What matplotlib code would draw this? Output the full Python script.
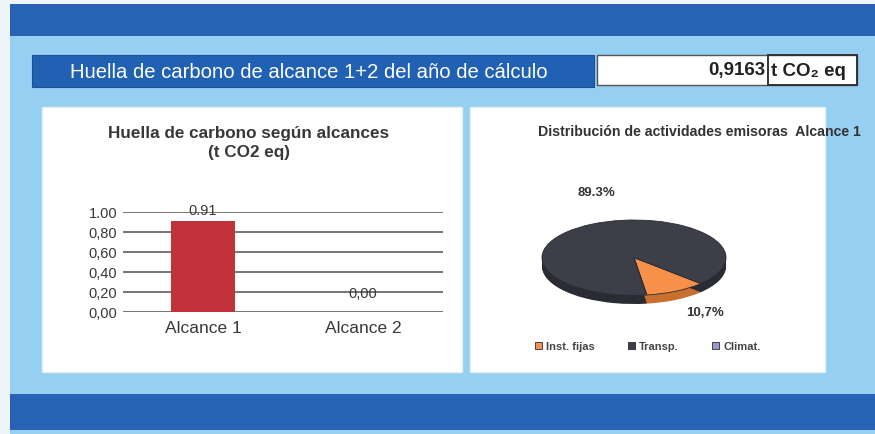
import matplotlib
matplotlib.use("Agg")
import matplotlib.pyplot as plt
from matplotlib.patches import Rectangle

# Footprint per scope (t CO2 eq)
scopes = ["Alcance 1", "Alcance 2"]
scope_values = [0.91, 0.00]
scope_labels = ["0.91", "0,00"]
y_ticks = [0.0, 0.2, 0.4, 0.6, 0.8, 1.0]
y_tick_labels = ["0,00", "0,20", "0,40", "0,60", "0,80", "1.00"]

# Scope 1 split by emitting activity (%)
activities = ["Inst. fijas", "Transp.", "Climat."]
activity_share = [10.7, 89.3, 0.0]
activity_labels = ["10,7%", "89.3%", ""]

total_value = "0,9163"
total_unit = "t CO₂ eq"
header = "Huella de carbono de alcance 1+2 del año de cálculo"

W, H = 875, 435
FONT = ["Liberation Sans", "DejaVu Sans"]
DARK_BLUE = "#2762b4"
LIGHT_BLUE = "#95cff1"
TEXT = "#383838"


def box(x0, y0, x1, y1):
    """Pixel box (top-left origin) -> figure fraction [l, b, w, h]."""
    return [x0 / W, 1 - y1 / H, (x1 - x0) / W, (y1 - y0) / H]


def fx(x):
    return x / W


def fy(y):
    return 1 - y / H


def rect(x0, y0, x1, y1, **kw):
    l, b, w, h = box(x0, y0, x1, y1)
    fig.add_artist(Rectangle((l, b), w, h, transform=fig.transFigure,
                             zorder=-5, **kw))


fig = plt.figure(figsize=(W / 100, H / 100), dpi=100)
fig.patch.set_facecolor(LIGHT_BLUE)

# page frame
rect(0, 0, 10, H, facecolor="#eef6fb", lw=0)
rect(0, 0, W, 5, facecolor="#eef6fb", lw=0)
rect(10, 5, W, 37, facecolor=DARK_BLUE, lw=0)
rect(10, 395, W, 431, facecolor=DARK_BLUE, lw=0)

# header row
rect(32, 56, 594, 88, facecolor="#2161b3", edgecolor="#1b4f96", lw=0.8)
fig.text(fx(70), fy(73), header, color="white", fontsize=14.6,
         family=FONT, va="center", ha="left")
rect(597, 56, 857, 86, facecolor="white", edgecolor="#555555", lw=1.0)
rect(768, 56, 857, 86, facecolor="none", edgecolor="#333333", lw=1.4)
fig.text(fx(765), fy(71), total_value, color="#222222", fontsize=13.5,
         family=FONT, fontweight="bold", va="center", ha="right")
fig.text(fx(771), fy(71), total_unit, color="#222222", fontsize=13.5,
         family=FONT, fontweight="bold", va="center", ha="left")

# white panels
rect(42, 108, 462, 373, facecolor="white", edgecolor="#e4eef5", lw=1)
rect(470, 108, 825, 373, facecolor="white", edgecolor="#e4eef5", lw=1)

# ---- bar chart: footprint by scope ----
fig.text(fx(249), fy(143), "Huella de carbono según alcances\n(t CO2 eq)",
         color=TEXT, fontsize=12.3, family=FONT, fontweight="bold",
         ha="center", va="center", linespacing=1.3)

ax = fig.add_axes(box(123, 213, 443, 313))
x = range(len(scopes))
bars = ax.bar(x, scope_values, width=0.4, color="#c1323b", zorder=3)
for b, lab in zip(bars, scope_labels):
    ax.annotate(lab, (b.get_x() + b.get_width() / 2, b.get_height()),
                xytext=(0, 3 if b.get_height() > 0 else 9),
                textcoords="offset points", ha="center", va="bottom",
                fontsize=10.5, color=TEXT, family=FONT)
ax.set_xlim(-0.5, 1.5)
ax.set_ylim(0, 1.0)
ax.set_yticks(y_ticks)
ax.set_yticklabels(y_tick_labels, fontsize=10.5, color=TEXT, family=FONT)
ax.set_xticks(list(x))
ax.set_xticklabels(scopes, fontsize=12.5, color=TEXT, family=FONT)
ax.tick_params(length=0, pad=4)
ax.tick_params(axis="x", pad=6)
ax.yaxis.grid(True, color="#5e5e5e", lw=1.2, zorder=0)
ax.set_axisbelow(True)
for s in ax.spines.values():
    s.set_visible(False)
ax.patch.set_alpha(0)

# ---- pie chart: scope 1 activities ----
fig.text(fx(538), fy(132), "Distribución de actividades emisoras  Alcance 1",
         color="#333333", fontsize=10.2, family=FONT, fontweight="bold",
         ha="left", va="center")

colors = ["#f7914a", "#3c3f48", "#9a98c6"]
side = ["#c96f30", "#2a2c33", "#77759f"]
start = -82
pax = fig.add_axes(box(542, 221, 726, 305))
pax.patch.set_alpha(0)
# side wall, then top face
depth = -0.23
for k in range(12):
    pax.pie(activity_share, colors=side, startangle=start, counterclock=True,
            center=(0, depth * (k + 1) / 12), frame=True,
            wedgeprops=dict(lw=0))
wedges, _ = pax.pie(activity_share, colors=colors, startangle=start,
                    counterclock=True, frame=True,
                    wedgeprops=dict(lw=0.6, edgecolor="#2a2c33"))
pax.set_aspect("auto")
pax.set_xlim(-1, 1)
pax.set_ylim(-1.23, 1)
pax.axis("off")

fig.text(fx(597), fy(193), activity_labels[1], fontsize=9.5, color="#333333",
         family=FONT, fontweight="bold", ha="center", va="center")
fig.text(fx(705), fy(313), activity_labels[0], fontsize=9.5, color="#333333",
         family=FONT, fontweight="bold", ha="center", va="center")

leg = fig.legend(wedges, activities, loc="center", ncol=3,
                 bbox_to_anchor=(fx(648), fy(347)), frameon=False,
                 handlelength=0.6, handleheight=0.6, columnspacing=3.0,
                 handletextpad=0.4, prop=dict(family=FONT, size=8,
                                              weight="bold"))
for t in leg.get_texts():
    t.set_color("#444444")

fig.savefig("out.png", dpi=100, facecolor=fig.get_facecolor())
